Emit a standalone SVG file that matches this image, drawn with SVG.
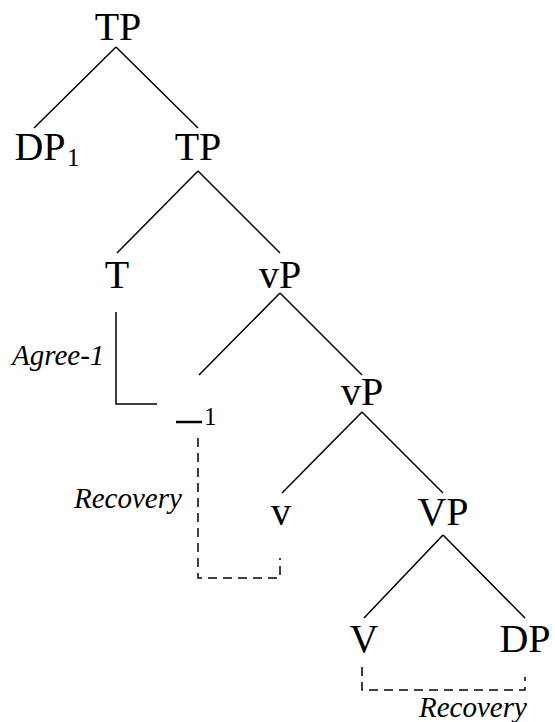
<svg xmlns="http://www.w3.org/2000/svg" width="555" height="722" viewBox="0 0 555 722">
<style>
.lbl{font-family:"Liberation Serif","DejaVu Serif",serif;font-size:40px;fill:#000;text-anchor:middle}
.sub{font-family:"Liberation Serif","DejaVu Serif",serif;font-size:25px;fill:#000}
.it{font-family:"Liberation Serif","DejaVu Serif",serif;font-style:italic;font-size:29px;fill:#000}
.e{stroke:#000;stroke-width:1.5;fill:none}
.d{stroke:#000;stroke-width:1.5;fill:none;stroke-dasharray:9 6}
</style>
<rect width="555" height="722" fill="#fff"/>
<g id="connectors">
<line class="e" x1="116" y1="47" x2="34" y2="128"/>
<line class="e" x1="116" y1="47" x2="198" y2="128"/>
<line class="e" x1="198" y1="171" x2="117" y2="253"/>
<line class="e" x1="198" y1="171" x2="280" y2="253"/>
<line class="e" x1="280" y1="293" x2="199" y2="375"/>
<line class="e" x1="280" y1="293" x2="362" y2="375"/>
<line class="e" x1="362" y1="412" x2="282" y2="493"/>
<line class="e" x1="362" y1="412" x2="443" y2="493"/>
<line class="e" x1="443" y1="535" x2="364" y2="618"/>
<line class="e" x1="443" y1="535" x2="525" y2="618"/>
<polyline class="e" points="116,312 116,404 157,404"/>
<polyline class="d" points="198,438 198,578 280,578 280,558"/>
<polyline class="d" points="362,667 362,690 525,690 525,677"/>
</g>
<g id="TP-root"><text class="lbl" x="118" y="40">TP</text></g>
<g id="DP1"><text class="lbl" x="40" y="160">DP</text><text class="sub" x="67" y="166">1</text></g>
<g id="TP"><text class="lbl" x="198" y="160">TP</text></g>
<g id="T"><text class="lbl" x="117" y="288">T</text></g>
<g id="vP-1"><text class="lbl" x="280" y="288">vP</text></g>
<g id="trace"><line x1="176" y1="422" x2="202" y2="422" stroke="#000" stroke-width="2.5"/><text class="sub" x="204" y="425">1</text></g>
<g id="vP-2"><text class="lbl" x="362" y="405">vP</text></g>
<g id="v"><text class="lbl" x="281" y="525">v</text></g>
<g id="VP"><text class="lbl" x="443" y="525">VP</text></g>
<g id="V"><text class="lbl" x="364" y="652">V</text></g>
<g id="DP"><text class="lbl" x="525" y="652">DP</text></g>
<g id="labels">
<text class="it" x="12" y="365">Agree-1</text>
<text class="it" x="74" y="508">Recovery</text>
<text class="it" x="419" y="717">Recovery</text>
</g>
</svg>
